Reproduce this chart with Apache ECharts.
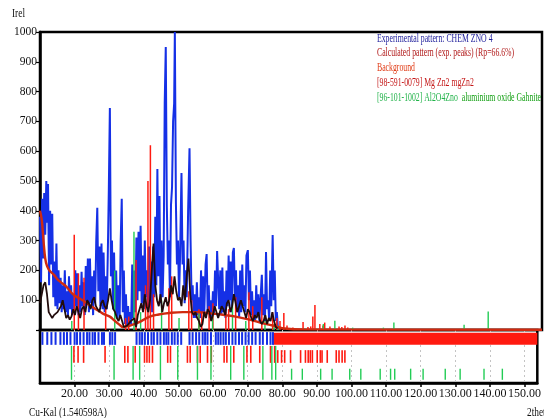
<!DOCTYPE html>
<html>
<head>
<meta charset="utf-8">
<script src="https://cdn.jsdelivr.net/npm/echarts@6/dist/echarts.min.js"></script>
<style>
html,body{margin:0;padding:0;background:#fff;}
#c{width:544px;height:418px;}
</style>
</head>
<body>
<div id="c"></div>
<script>
// ---- DATA ----
const xTickValues = [20, 30, 40, 50, 60, 70, 80, 90, 100, 110, 120, 130, 140, 150];
const yTickValues = [100, 200, 300, 400, 500, 600, 700, 800, 900, 1000];

// Experimental pattern (2theta, intensity)
const expPattern = [
[10.0,380],[10.3,160],[10.6,440],[10.9,240],[11.2,460],[11.5,320],[11.8,500],[12.1,360],[12.3,490],[12.6,150],
[12.9,400],[13.2,220],[13.5,390],[13.8,110],[14.1,230],[14.4,80],[14.7,290],[15.0,70],[15.3,200],[15.6,90],
[15.9,175],[16.2,60],[16.5,150],[16.8,70],[17.1,200],[17.4,60],[17.7,130],[18.0,50],[18.3,180],[18.6,70],
[18.9,150],[19.2,50],[19.5,120],[19.8,60],[20.1,200],[20.4,80],[20.7,190],[21.0,50],[21.3,150],[21.6,60],
[21.9,195],[22.2,80],[22.5,160],[22.8,50],[23.1,215],[23.4,90],[23.7,240],[24.0,60],[24.3,240],[24.6,90],
[24.9,180],[25.2,50],[25.5,200],[25.8,90],[26.1,300],[26.4,410],[26.7,130],[27.0,280],[27.3,80],[27.6,290],
[27.9,70],[28.2,260],[28.5,60],[28.8,180],[29.1,70],[29.4,250],[29.7,470],[30.0,745],[30.3,180],[30.6,300],
[30.9,70],[31.2,260],[31.5,60],[31.8,200],[32.1,40],[32.4,150],[32.8,40],[33.1,300],[33.4,440],[33.7,60],
[34.0,200],[34.3,20],[34.6,120],[34.9,10],[35.2,80],[35.5,10],[35.8,60],[36.1,20],[36.4,220],[36.7,40],
[37.0,200],[37.3,60],[37.6,310],[37.9,100],[38.2,330],[38.5,130],[38.8,350],[39.1,90],[39.4,250],[39.7,70],
[40.0,300],[40.3,110],[40.6,200],[40.9,60],[41.2,280],[41.5,90],[41.8,230],[42.1,60],[42.4,280],[42.7,110],
[43.0,380],[43.3,150],[43.6,540],[43.9,180],[44.2,450],[44.5,90],[44.8,300],[45.1,110],[45.4,250],[45.7,760],
[46.0,950],[46.3,420],[46.6,220],[46.9,300],[47.2,110],[47.5,420],[47.8,480],[48.1,700],[48.4,760],[48.6,1000],
[48.9,430],[49.2,220],[49.5,300],[49.8,110],[50.1,250],[50.5,527],[50.8,220],[51.1,300],[51.4,90],[51.7,200],
[52.0,110],[52.4,400],[52.8,610],[53.1,300],[53.4,100],[53.7,150],[54.0,40],[54.3,120],[54.6,40],[54.9,160],
[55.2,50],[55.5,110],[55.8,40],[56.1,200],[56.4,60],[56.7,180],[57.0,50],[57.4,220],[57.7,255],[58.0,60],
[58.3,150],[58.6,40],[58.9,100],[59.2,40],[59.5,130],[59.8,50],[60.1,200],[60.4,80],[60.7,265],[61.0,260],
[61.3,70],[61.6,200],[61.9,50],[62.2,210],[62.5,60],[62.8,130],[63.1,40],[63.4,200],[63.7,80],[64.0,250],
[64.3,100],[64.6,230],[64.9,60],[65.2,260],[65.5,275],[65.8,100],[66.1,200],[66.4,60],[66.7,150],[67.0,40],
[67.3,200],[67.6,60],[67.9,220],[68.2,80],[68.5,150],[68.8,60],[69.1,250],[69.5,268],[69.8,100],[70.1,200],
[70.4,50],[70.7,130],[71.0,40],[71.3,100],[71.6,30],[71.9,150],[72.2,50],[72.5,120],[72.8,30],[73.1,100],
[73.5,185],[73.8,50],[74.1,120],[74.4,30],[74.7,262],[75.0,70],[75.3,100],[75.6,30],[75.9,200],[76.2,80],
[76.6,319],[76.9,100],[77.2,200],[77.5,30],[77.8,60],[78.1,10],[78.3,0]
];

// Background curve
const backgroundCurve = [
[10,400],[10.5,370],[11,300],[11.5,240],[12,215],[12.7,200],[14,185],[15,170],[16,160],[17.6,145],
[19,125],[20,115],[22.2,100],[24,85],[26,70],[28,55],[30,45],[31,35],[32,25],[33,15],[33.7,10],
[35,12],[37,20],[39,30],[41.4,45],[44,52],[47,57],[50.9,60],[55,60],[59.5,55],[63,50],[66,45],
[70,35],[73,25],[76.6,15],[78,10],[80,5],[85,2],[153.7,1]
];

// Difference / residual curve (black)
const diffCurve = [
[10,90],[10.5,120],[11,150],[11.5,160],[12,120],[12.5,60],[13,50],[13.5,40],[14,50],[14.5,45],[15,60],
[15.5,55],[16,80],[16.5,100],[17,70],[17.5,40],[18,50],[18.5,35],[19,45],[19.5,70],[20,50],[20.5,80],
[21,60],[21.5,40],[22,70],[22.5,80],[23,60],[23.5,100],[24,90],[24.5,70],[25,100],[25.5,110],[26,80],
[26.5,70],[27,60],[27.5,90],[28,100],[28.5,80],[29,70],[29.5,100],[30,140],[30.5,100],[31,70],[31.5,60],
[32,40],[32.5,30],[33,50],[33.5,30],[34,10],[34.5,5],[35,15],[35.5,10],[36,30],[36.5,25],[37,40],
[37.5,10],[38,50],[38.5,70],[39,90],[39.5,60],[40,120],[40.5,80],[41,60],[41.5,100],[42,200],[42.5,290],
[43,150],[43.5,100],[44,80],[44.5,120],[45,60],[45.5,90],[46,110],[46.5,80],[47,100],[47.5,150],[48,120],
[48.5,180],[49,130],[49.5,100],[50,110],[50.5,80],[51,150],[51.5,100],[52,180],[52.5,240],[53,120],
[53.5,60],[54,50],[54.5,60],[55,40],[55.5,30],[56,10],[56.5,20],[57,60],[57.5,40],[58,70],[58.5,60],
[59,30],[59.5,50],[60,80],[60.5,60],[61,40],[61.5,60],[62,80],[62.5,70],[63,50],[63.5,90],[64,100],
[64.5,60],[65,80],[65.5,120],[66,90],[66.5,60],[67,80],[67.5,100],[68,80],[68.5,60],[69,40],[69.5,70],
[70,60],[70.5,40],[71,30],[71.5,50],[72,40],[72.5,60],[73,30],[73.5,20],[74,30],[74.5,50],[75,20],
[75.5,40],[76,30],[76.5,60],[77,30],[77.5,10],[78,5]
];

// [98-591-0079] Mg Zn2 peaks (2theta, intensity)
const mgZn2Peaks = [
[19.8,320],[21.0,190],[22.6,175],[28.8,80],[34.5,40],[35.4,45],[37.5,235],[40.2,150],[40.9,500],[41.6,620],
[42.5,120],[46.9,140],[47.7,180],[52.6,130],[53.4,100],[55.5,70],[56.3,60],[58.4,80],[59.5,90],[63.2,60],
[64.0,70],[66.0,110],[69.8,127],[70.9,80],[73.5,110],[76.6,60],[77.8,40],[78.7,30],[79.8,57],[80.7,15],
[82.4,8],[85.3,27],[86.7,10],[87.5,12],[88.1,45],[88.7,84],[90.1,20],[91.0,15],[91.5,25],[93.0,12],
[95.6,12],[96.4,10],[97.3,15],[98.1,8]
];

// [96-101-1002] Al2O4Zn peaks (2theta, intensity)
const gahnitePeaks = [
[19.1,30],[31.4,200],[36.9,330],[38.8,60],[44.8,100],[49.8,40],[55.5,60],[59.4,60],[65.1,100],[68.9,30],
[74.4,30],[77.0,20],[78.1,15],[82.7,5],[85.8,5],[91.1,20],[94.4,31],[99.5,8],[102.7,3],[108.3,8],
[111.3,25],[112.5,3],[117.1,3],[120.7,3],[127.1,3],[131.4,18],[138.3,62],[143.6,3]
];

// Experimental peak markers (2theta)
const expPeakMarks = [
10.7,12.1,13.3,14.5,15.9,16.9,17.8,18.8,20.0,20.7,21.6,22.6,23.6,24.3,25.2,25.9,26.9,27.9,28.5,
30.2,30.9,31.7,37.9,38.8,39.5,40.3,41.2,42.2,42.9,43.9,44.8,45.8,46.5,47.1,48.1,48.9,49.8,50.8,
53.2,54.1,55.1,56.0,57.0,57.7,58.4,59.4,60.8,61.5,62.2,63.0,63.7,64.6,65.6,66.5,67.5,68.4,69.4,
70.3,71.3,72.3,73.5,74.4,75.6,76.6,77.3
];

// Dense calculated-marker band range (2theta)
const calcBandRange = [[77.3, 153.7]];

const legendLines = [
  'Experimental pattern: CHEM ZNO 4',
  'Calculated pattern (exp. peaks) (Rp=66.6%)',
  'Background',
  '[98-591-0079] Mg Zn2 mgZn2',
  ['[96-101-1002] Al2O4Zno', 'aluminium oxide Gahnite']
];

// ---- CHART ----
const FONT = '"Liberation Serif", "Times New Roman", serif';
const chart = echarts.init(document.getElementById('c'), null, {renderer: 'canvas'});

function stickSeries(name, data, color, width) {
  return {
    name, type: 'custom', xAxisIndex: 0, yAxisIndex: 0, data,
    renderItem: function (params, api) {
      const p0 = api.coord([api.value(0), 0]);
      const p1 = api.coord([api.value(0), api.value(1)]);
      return {type: 'line', shape: {x1: p0[0], y1: p0[1], x2: p1[0], y2: p1[1]},
        style: {stroke: color, lineWidth: width}};
    },
    z: 3, silent: true, animation: false
  };
}

function markerSeries(name, data, color, width, topFn, botFn) {
  return {
    name, type: 'custom', xAxisIndex: 1, yAxisIndex: 1,
    data: data.map(d => Array.isArray(d) ? [d[0]] : [d]),
    renderItem: function (params, api) {
      const x = api.value(0);
      const p0 = api.coord([x, botFn(x)]);
      const p1 = api.coord([x, topFn(x)]);
      return {type: 'line', shape: {x1: p0[0], y1: p0[1], x2: p1[0], y2: p1[1]},
        style: {stroke: color, lineWidth: width}};
    },
    z: 3, silent: true, animation: false
  };
}

const legendTop = 38, legendStep = 14.8;
const legendColors = ['#1c1c9a', '#b01818', '#e03a14', '#c41818'];
const LFONT = '13.5px ' + FONT;
const graphics = [
  {type: 'text', x: 12, y: 14, scaleX: 0.75, style: {text: 'Irel', font: '12.5px ' + FONT, fill: '#111', verticalAlign: 'middle'}},
  {type: 'text', x: 29, y: 413, scaleX: 0.72, style: {text: 'Cu-Kal (1.540598A)', font: '13px ' + FONT, fill: '#111', verticalAlign: 'middle'}},
  {type: 'text', x: 527, y: 413, scaleX: 0.72, style: {text: '2theta', font: '13px ' + FONT, fill: '#111', verticalAlign: 'middle'}}
];
legendLines.forEach((t, i) => {
  const y = legendTop + i * legendStep;
  if (Array.isArray(t)) {
    graphics.push({type: 'text', x: 377, y, scaleX: 0.575, z: 10, style: {
      text: '{a|' + t[0] + '}  {b|' + t[1] + '}', font: LFONT, verticalAlign: 'middle',
      rich: {a: {fill: '#22b34a', font: LFONT}, b: {fill: '#14a014', font: LFONT}}
    }});
  } else {
    graphics.push({type: 'text', x: 377, y, scaleX: 0.575, z: 10, style: {
      text: t, font: LFONT, fill: legendColors[i], verticalAlign: 'middle'}});
  }
});

const option = {
  animation: false,
  backgroundColor: '#fff',
  graphic: graphics,
  grid: [
    {left: 40, right: 2, top: 32, height: 298, show: true, borderColor: '#000', borderWidth: 2.5, backgroundColor: '#fff'},
    {left: 40, right: 2, top: 330, height: 53, show: true, borderColor: '#000', borderWidth: 2.5}
  ],
  xAxis: [
    {gridIndex: 0, type: 'value', min: 10, max: 153.7, interval: 10,
      axisLine: {show: false}, axisTick: {show: false}, axisLabel: {show: false}, splitLine: {show: false}},
    {gridIndex: 1, type: 'value', min: 10, max: 153.7, interval: 10, position: 'bottom',
      axisLine: {show: true, lineStyle: {color: '#000', width: 2.5}},
      axisTick: {show: true, length: 4, lineStyle: {color: '#000', width: 1.5},
        customValues: xTickValues},
      axisLabel: {show: true, fontFamily: FONT, fontSize: 12, color: '#111', margin: 5,
        customValues: xTickValues,
        formatter: v => (xTickValues.indexOf(v) >= 0 ? v.toFixed(2) : '')},
      splitLine: {show: true, lineStyle: {type: [2, 3], color: '#c4c4c4', width: 1}}}
  ],
  yAxis: [
    {gridIndex: 0, type: 'value', min: 0, max: 1000, interval: 100,
      axisLine: {show: true, lineStyle: {color: '#000', width: 2.5}},
      axisTick: {show: true, length: 4, lineStyle: {color: '#000', width: 1.2}},
      axisLabel: {show: true, fontFamily: FONT, fontSize: 11.5, color: '#111', margin: 3,
        formatter: v => (yTickValues.indexOf(v) >= 0 ? String(v) : '')},
      splitLine: {show: false}},
    {gridIndex: 1, type: 'value', min: 0, max: 1, show: false}
  ],
  series: [
    {name: 'Experimental', type: 'line', xAxisIndex: 0, yAxisIndex: 0, data: expPattern,
      showSymbol: false, lineStyle: {color: '#1530e6', width: 2}, z: 2, silent: true},
    stickSeries('MgZn2', mgZn2Peaks, '#ff1a10', 1.5),
    stickSeries('Gahnite', gahnitePeaks, '#22cc55', 1.4),
    {name: 'Background', type: 'line', xAxisIndex: 0, yAxisIndex: 0, data: backgroundCurve, smooth: 0.4,
      showSymbol: false, lineStyle: {color: '#d02a10', width: 2.4}, z: 4, silent: true},
    {name: 'Difference', type: 'line', xAxisIndex: 0, yAxisIndex: 0, data: diffCurve,
      showSymbol: false, lineStyle: {color: '#220c0c', width: 1.8}, z: 5, silent: true},
    // lower panel
    {name: 'CalcBand', type: 'custom', xAxisIndex: 1, yAxisIndex: 1, data: calcBandRange,
      renderItem: function (params, api) {
        const a = api.coord([api.value(0), 0.95]);
        const b = api.coord([api.value(1), 0.72]);
        return {type: 'rect', shape: {x: a[0], y: a[1], width: b[0] - a[0], height: b[1] - a[1]},
          style: {fill: '#ff1a10'}};
      }, z: 3, silent: true},
    markerSeries('ExpMarks', expPeakMarks, '#1530e6', 2, x => 0.96, x => 0.72),
    markerSeries('MgZn2Marks', mgZn2Peaks, '#ff1a10', 1.6, x => (x < 78 ? 0.70 : 0.62), x => 0.38),
    markerSeries('GahniteMarks', gahnitePeaks, '#22cc55', 1.4, x => (x < 79 ? 0.70 : 0.27), x => 0.06)
  ]
};
chart.setOption(option);
</script>
</body>
</html>
